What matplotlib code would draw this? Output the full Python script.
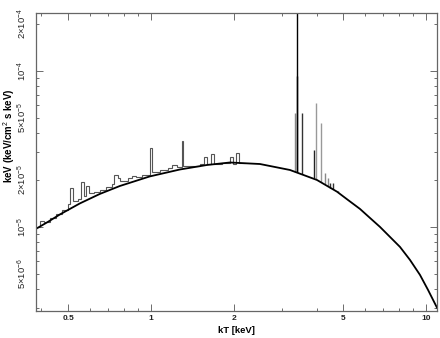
import matplotlib
matplotlib.use("Agg")
import matplotlib.pyplot as plt
from matplotlib.ticker import FixedLocator, NullFormatter

# ---- data ----
# smooth continuum (kT in keV, flux)
cont_x = [0.3818, 0.4221, 0.4668, 0.5518, 0.6524, 0.7714, 0.99, 1.2749, 1.5985, 1.9377,
          2.4912, 3.2023, 4.0148, 4.7473, 5.204, 5.7544, 6.257, 6.8033, 7.398, 8.0437,
          8.746, 9.5101, 10.169, 10.965]
cont_y = [9.667e-6, 1.072e-5, 1.197e-5, 1.409e-5, 1.621e-5, 1.823e-5, 2.099e-5, 2.326e-5,
          2.486e-5, 2.579e-5, 2.522e-5, 2.309e-5, 1.992e-5, 1.676e-5, 1.483e-5, 1.299e-5,
          1.137e-5, 9.96e-6, 8.59e-6, 7.41e-6, 6.115e-6, 4.90e-6, 3.93e-6, 3.02e-6]

# binned low-energy spectrum (bin edges and values)
hist_edges = [0.3818, 0.3948, 0.4082, 0.4292, 0.4512, 0.4745, 0.4990, 0.5074, 0.5203,
              0.5426, 0.5564, 0.5706, 0.5802, 0.5950, 0.6204, 0.6524, 0.6860, 0.7213,
              0.7335, 0.7586, 0.7714, 0.7845, 0.8249, 0.8528, 0.8818, 0.9274, 0.9960,
              1.0085, 1.0783, 1.1530, 1.1922, 1.2432, 1.2964, 1.3130, 1.4095, 1.5075,
              1.5588, 1.5985, 1.6529, 1.6949, 1.8123, 1.9377, 1.9869, 2.0374, 2.0893,
              2.1968]
hist_vals = [1.0e-5, 1.088e-5, 1.072e-5, 1.137e-5, 1.206e-5, 1.279e-5, 1.398e-5, 1.770e-5,
             1.461e-5, 1.505e-5, 1.934e-5, 1.561e-5, 1.823e-5, 1.632e-5, 1.668e-5, 1.718e-5,
             1.796e-5, 1.878e-5, 2.145e-5, 2.037e-5, 1.963e-5, 1.963e-5, 2.052e-5, 2.113e-5,
             2.067e-5, 2.145e-5, 3.195e-5, 2.241e-5, 2.309e-5, 2.361e-5, 2.486e-5, 2.413e-5,
             3.542e-5, 2.431e-5, 2.467e-5, 2.504e-5, 2.797e-5, 2.522e-5, 2.924e-5, 2.541e-5,
             2.560e-5, 2.797e-5, 2.541e-5, 2.968e-5, 2.560e-5]

# high-energy emission lines: energy, peak, base, shade
line_e    = [3.339, 3.387, 3.395, 3.532, 3.931, 3.981, 4.151, 4.294, 4.391, 4.496, 4.591, 4.786]
line_peak = [5.36e-5, 5.0e-4, 9.26e-5, 5.34e-5, 3.10e-5, 6.18e-5, 4.64e-5, 2.20e-5, 2.05e-5,
             1.905e-5, 1.905e-5, 1.70e-5]
line_base = [2.24e-5, 2.24e-5, 2.24e-5, 2.177e-5, 2.037e-5, 2.012e-5, 1.934e-5, 1.864e-5,
             1.823e-5, 1.770e-5, 1.732e-5, 1.662e-5]
line_col  = ['#888888', '#000000', '#000000', '#333333', '#222222', '#999999', '#999999',
             '#888888', '#888888', '#333333', '#333333', '#444444']

xticks = [0.5, 1, 2, 5, 10]
xticklabels = ['0.5', '1', '2', '5', '10']
yticks = [5e-6, 1e-5, 2e-5, 5e-5, 1e-4, 2e-4]
yticklabels = [r'$5{\times}10^{-6}$', r'$10^{-5}$', r'$2{\times}10^{-5}$',
               r'$5{\times}10^{-5}$', r'$10^{-4}$', r'$2{\times}10^{-4}$']

plt.rcParams['font.family'] = ['Liberation Sans', 'DejaVu Sans']
plt.rcParams['mathtext.fontset'] = 'custom'
plt.rcParams['mathtext.rm'] = 'Liberation Sans'
plt.rcParams['mathtext.it'] = 'Liberation Sans'
plt.rcParams['mathtext.bf'] = 'Liberation Sans:bold'

fig = plt.figure(figsize=(4.4, 3.38), dpi=100)
ax = fig.add_axes([0.081, 0.081, 0.913, 0.881])
ax.set_xscale('log')
ax.set_yscale('log')

ax.stairs(hist_vals, hist_edges, color='#555555', lw=0.8, baseline=None)
for e, p, b, c in zip(line_e, line_peak, line_base, line_col):
    ax.vlines(e, b, p, color=c, lw=1.0)
ax.plot(cont_x, cont_y, color='black', lw=1.3)

ax.set_xlim(0.381, 11.0)
ax.set_ylim(2.89e-6, 2.354e-4)

ax.xaxis.set_major_locator(FixedLocator(xticks))
ax.set_xticklabels(xticklabels)
ax.xaxis.set_minor_locator(FixedLocator([0.4, 0.6, 0.7, 0.8, 0.9, 3, 4, 6, 7, 8, 9]))
ax.xaxis.set_minor_formatter(NullFormatter())
ax.yaxis.set_major_locator(FixedLocator([1e-5, 1e-4]))
ax.yaxis.set_minor_locator(FixedLocator([3e-6, 4e-6, 5e-6, 6e-6, 7e-6, 8e-6, 9e-6,
                                         2e-5, 3e-5, 4e-5, 5e-5, 6e-5, 7e-5, 8e-5, 9e-5, 2e-4]))
ax.yaxis.set_major_formatter(NullFormatter())
ax.yaxis.set_minor_formatter(NullFormatter())
for v, s in zip(yticks, yticklabels):
    ax.text(-0.032, v, s, transform=ax.get_yaxis_transform(), rotation=90,
            ha='center', va='center', fontsize=6.8, fontweight='bold', color='#222222')

ax.tick_params(which='both', direction='in', top=True, right=True, colors='#555555',
               labelcolor='#222222', labelsize=6, width=0.6)
ax.tick_params(which='major', length=5)
ax.tick_params(which='minor', length=2.5)
ax.tick_params(axis='x', pad=3)
for lab in ax.get_xticklabels():
    lab.set_fontweight('bold')
for s in ax.spines.values():
    s.set_color('#666666')
    s.set_linewidth(0.9)

ax.set_xlabel('kT [keV]', fontsize=6.8, fontweight='bold', labelpad=3)
fig.text(0.021, 0.60, 'keV (keV/cm$^2$ s keV)', rotation=90, ha='center', va='center',
         fontsize=7, fontweight='bold')

fig.savefig('out.png', dpi=100)
